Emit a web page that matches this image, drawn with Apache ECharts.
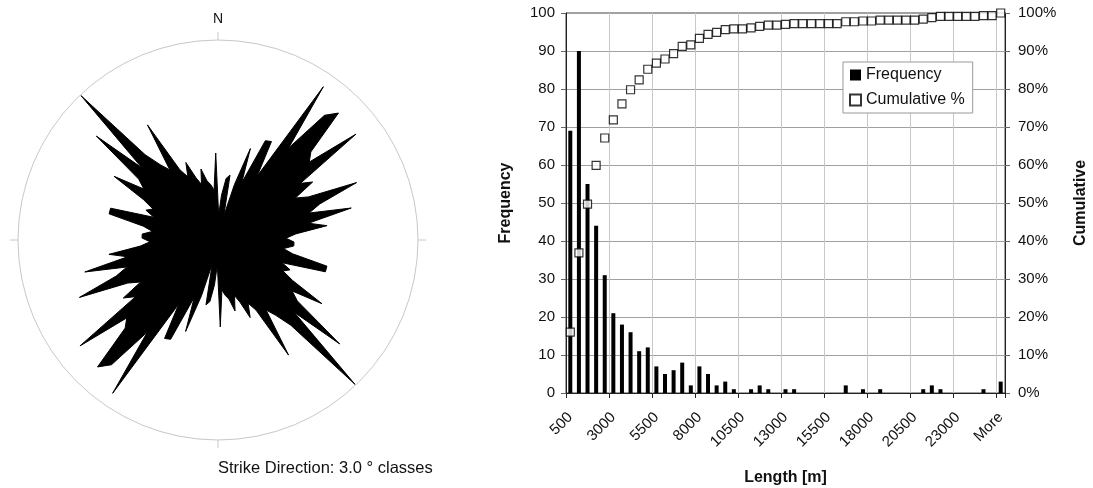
<!DOCTYPE html>
<html>
<head>
<meta charset="utf-8">
<script src="https://cdn.jsdelivr.net/npm/echarts@6/dist/echarts.min.js"></script>
<style>
html,body{margin:0;padding:0;background:#fff;}
#c{width:1093px;height:488px;}
</style>
</head>
<body>
<div id="c"></div>
<script>
// Rose diagram: strike directions in 3.0° classes, 0°–180° (strike is axial, so 180°–360° repeats)
const strikeClassWidth = 3;
const rosePetals = [25, 45, 62, 66, 25, 58, 97, 62, 110, 112, 75, 186, 116, 164, 175, 128, 120, 174, 100, 111,
                    88, 100, 150, 108, 95, 137, 92, 110, 78, 68, 76, 76, 66, 76, 112, 112, 68, 78, 72, 85,
                    122, 90, 100, 160, 105, 199, 112, 95, 85, 135, 80, 70, 84, 66, 58, 73, 60, 56, 50, 87];

// Histogram of lengths
const lengthClasses = ['500','1000','1500','2000','2500','3000','3500','4000','4500','5000',
  '5500','6000','6500','7000','7500','8000','8500','9000','9500','10000',
  '10500','11000','11500','12000','12500','13000','13500','14000','14500','15000',
  '15500','16000','16500','17000','17500','18000','18500','19000','19500','20000',
  '20500','21000','21500','22000','22500','23000','23500','24000','24500','25000','More'];
const frequency = [69, 90, 55, 44, 31, 21, 18, 16, 11, 12, 7, 5, 6, 8, 2, 7, 5, 2, 3, 1,
                   0, 1, 2, 1, 0, 1, 1, 0, 0, 0, 0, 0, 2, 0, 1, 0, 1, 0, 0, 0,
                   0, 1, 2, 1, 0, 0, 0, 0, 1, 0, 3];
const cumulativePct = [16.0, 36.9, 49.7, 59.9, 67.1, 71.9, 76.1, 79.8, 82.4, 85.2,
                       86.8, 87.9, 89.3, 91.2, 91.6, 93.3, 94.4, 94.9, 95.6, 95.8,
                       95.8, 96.1, 96.5, 96.8, 96.8, 97.0, 97.2, 97.2, 97.2, 97.2,
                       97.2, 97.2, 97.7, 97.7, 97.9, 97.9, 98.1, 98.1, 98.1, 98.1,
                       98.1, 98.4, 98.8, 99.1, 99.1, 99.1, 99.1, 99.1, 99.3, 99.3, 100.0];
const freqTicks = [0, 100, 10];

// build the closed rose outline: [radius, angle] at class centres
const roseData = [];
for (let half = 0; half < 2; half++) {
  rosePetals.forEach((v, i) => {
    roseData.push([v, half * 180 + i * strikeClassWidth + strikeClassWidth / 2]);
  });
}
roseData.push([rosePetals[0], 360 + strikeClassWidth / 2]);

const FONT = 'Liberation Sans, Arial, sans-serif';
const chart = echarts.init(document.getElementById('c'), null, {renderer: 'canvas'});
chart.setOption({
  animation: false,
  backgroundColor: '#fff',
  textStyle: {fontFamily: FONT, color: '#111'},
  title: {
    text: 'Strike Direction: 3.0 ° classes',
    left: 218, top: 460, padding: 0,
    textStyle: {fontFamily: FONT, fontSize: 16.5, fontWeight: 'normal', color: '#111'}
  },
  polar: {center: [218, 240], radius: 200},
  angleAxis: {
    type: 'value', min: 0, max: 360, interval: 90,
    startAngle: 90, clockwise: true, polarIndex: 0,
    axisLine: {show: true, lineStyle: {color: '#c8c8c8', width: 1}},
    axisTick: {show: true, length: 8, lineStyle: {color: '#c8c8c8', width: 1}},
    axisLabel: {show: true, margin: 14, fontSize: 14, color: '#111', fontFamily: FONT,
      formatter: v => (v === 0 ? 'N' : '')},
    splitLine: {show: false}
  },
  radiusAxis: {
    type: 'value', min: 0, max: 200, polarIndex: 0,
    axisLine: {show: false}, axisTick: {show: false}, axisLabel: {show: false}, splitLine: {show: false}
  },
  grid: {left: 566, right: 88, top: 13, bottom: 95, show: true, borderColor: '#444', borderWidth: 1,
         outerBoundsMode: 'none', containLabel: false},
  legend: {
    orient: 'vertical', left: 843, top: 62,
    padding: [5, 8, 5, 6], itemGap: 9, itemWidth: 11, itemHeight: 11,
    backgroundColor: '#fff', borderColor: '#999', borderWidth: 1,
    textStyle: {fontFamily: FONT, fontSize: 16, color: '#111'},
    data: [{name: 'Frequency', icon: 'rect'}, {name: 'Cumulative %', icon: 'rect'}]
  },
  xAxis: {
    type: 'category', data: lengthClasses, boundaryGap: true, gridIndex: 0,
    name: 'Length [m]', nameLocation: 'middle', nameGap: 77, nameMoveOverlap: false,
    nameTextStyle: {fontFamily: FONT, fontSize: 16, fontWeight: 'bold', color: '#111'},
    axisLine: {lineStyle: {color: '#222'}},
    axisTick: {show: true, interval: 4, length: 5, lineStyle: {color: '#222'}},
    axisLabel: {interval: 4, rotate: 45, fontSize: 15, margin: 22, color: '#111', fontFamily: FONT},
    splitLine: {show: true, interval: 4, lineStyle: {color: '#c8c8c8', width: 1}}
  },
  yAxis: [{
    type: 'value', min: freqTicks[0], max: freqTicks[1], interval: freqTicks[2], position: 'left',
    name: 'Frequency', nameLocation: 'middle', nameGap: 52, nameRotate: 90, nameMoveOverlap: false,
    nameTextStyle: {fontFamily: FONT, fontSize: 16, fontWeight: 'bold', color: '#111'},
    axisLine: {show: true, lineStyle: {color: '#222'}},
    axisTick: {show: true, length: 5, lineStyle: {color: '#666'}},
    axisLabel: {fontSize: 15, margin: 11, color: '#111', fontFamily: FONT},
    splitLine: {show: true, lineStyle: {color: '#a0a0a0', width: 1}}
  }, {
    type: 'value', min: 0, max: 100, interval: 10, position: 'right',
    name: 'Cumulative', nameLocation: 'middle', nameGap: 68, nameRotate: 90, nameMoveOverlap: false,
    nameTextStyle: {fontFamily: FONT, fontSize: 16, fontWeight: 'bold', color: '#111'},
    axisLine: {show: true, lineStyle: {color: '#222'}},
    axisTick: {show: true, length: 5, lineStyle: {color: '#666'}},
    axisLabel: {fontSize: 15, margin: 13, color: '#111', fontFamily: FONT, formatter: '{value}%'},
    splitLine: {show: false}
  }],
  series: [{
    name: 'Strike', type: 'line', coordinateSystem: 'polar', polarIndex: 0,
    data: roseData, symbol: 'none', smooth: false, silent: true,
    lineStyle: {color: '#000', width: 1},
    areaStyle: {color: '#000', opacity: 1}
  }, {
    name: 'Frequency', type: 'bar', xAxisIndex: 0, yAxisIndex: 0,
    data: frequency, barWidth: 4, itemStyle: {color: '#000'}
  }, {
    name: 'Cumulative %', type: 'scatter', xAxisIndex: 0, yAxisIndex: 1,
    data: cumulativePct, symbol: 'rect', symbolSize: 8,
    itemStyle: {color: '#fff', borderColor: '#000', borderWidth: 1.2}
  }]
});
</script>
</body>
</html>
